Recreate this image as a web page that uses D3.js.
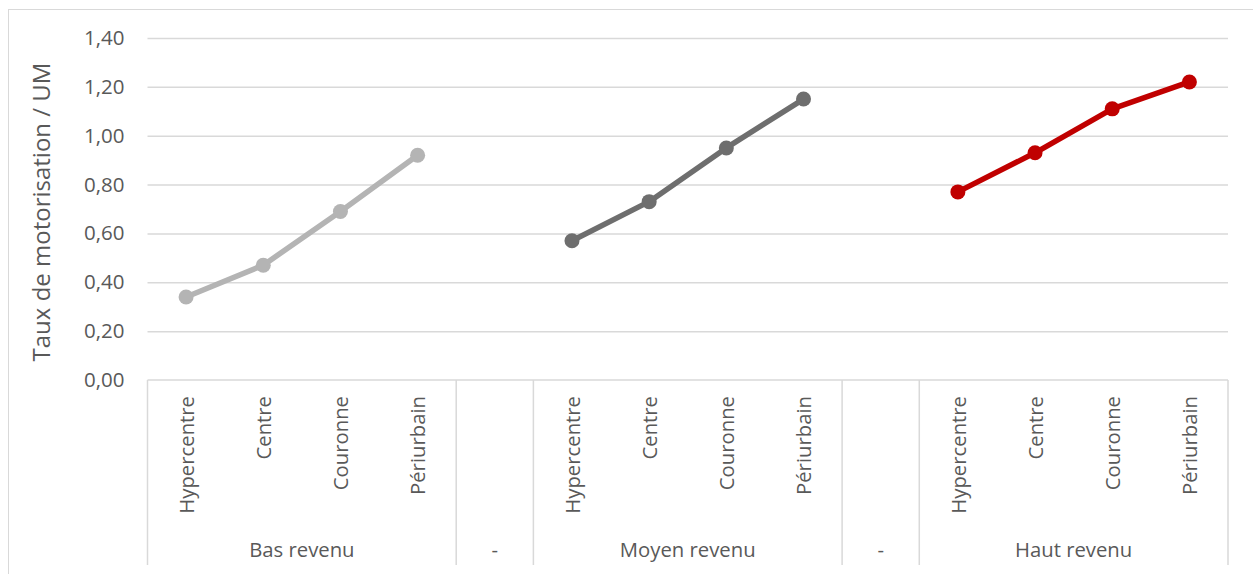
<!DOCTYPE html>
<html>
<head>
<meta charset="utf-8">
<script src="https://cdn.jsdelivr.net/npm/d3@7/dist/d3.min.js"></script>
<style>
  html, body { margin: 0; padding: 0; background: #fff; }
  svg { display: block; font-family: "Open Sans", sans-serif; }
</style>
</head>
<body>
<svg id="chart" width="1253" height="574"></svg>
<script>
// ---- data ----
const categories = ["Hypercentre", "Centre", "Couronne", "Périurbain"];
const groups = ["Bas revenu", "-", "Moyen revenu", "-", "Haut revenu"];
const basRevenu = [0.34, 0.47, 0.69, 0.92];
const moyenRevenu = [0.57, 0.73, 0.95, 1.15];
const hautRevenu = [0.77, 0.93, 1.11, 1.22];
const seriesColors = ["#b4b4b4", "#6e6e6e", "#c00000"];
const yTicks = [0, 0.2, 0.4, 0.6, 0.8, 1.0, 1.2, 1.4];
const yTitle = "Taux de motorisation / UM";

(function () {
// ---- slots (multi-level axis) ----
const slots = [];
groups.forEach((g, gi) => {
  if (g === "-") slots.push({ id: "s" + slots.length, group: gi, cat: "" });
  else categories.forEach(c => slots.push({ id: "s" + slots.length, group: gi, cat: c }));
});
const seriesList = [
  { group: 0, values: basRevenu, color: seriesColors[0] },
  { group: 2, values: moyenRevenu, color: seriesColors[1] },
  { group: 4, values: hautRevenu, color: seriesColors[2] }
];

const svg = d3.select("#chart");
const pLeft = 147.5, pRight = 1228, pTop = 38, pBottom = 380;
const textColor = "#595959", gridColor = "#d9d9d9";

// chart area border
svg.append("rect").attr("x", 8.5).attr("y", 9.5).attr("width", 1300).attr("height", 700)
  .attr("fill", "#fff").attr("stroke", gridColor).attr("stroke-width", 1);

const x = d3.scaleBand().domain(slots.map(s => s.id)).range([pLeft, pRight]).padding(0);
const y = d3.scaleLinear().domain([0, 1.4]).range([pBottom, pTop]);

const fr = d3.formatLocale({ decimal: ",", thousands: " ", grouping: [3], currency: ["", "€"] });
const fmt = fr.format(".2f");

// y axis with gridlines
const yAxis = svg.append("g").attr("transform", `translate(${pLeft},0)`)
  .call(d3.axisLeft(y).tickValues(yTicks).tickFormat(fmt).tickSize(-(pRight - pLeft)).tickPadding(23));
yAxis.select(".domain").remove();
yAxis.selectAll(".tick line").attr("stroke", gridColor).attr("stroke-width", 1.5);
yAxis.selectAll(".tick text").attr("fill", textColor).style("font-size", "20.5px")
  .style("font-family", "Open Sans");
yAxis.selectAll(".tick").filter(d => d === 0).select("line").remove();

// y title
svg.append("text")
  .attr("transform", `translate(50,${(pBottom + pTop) / 2 + 3}) rotate(-90)`)
  .attr("text-anchor", "middle")
  .attr("fill", textColor).style("font-size", "24px")
  .text(yTitle);

// category axis (first level)
const xAxis = svg.append("g").attr("transform", `translate(0,${pBottom})`)
  .call(d3.axisBottom(x).tickSize(0).tickFormat(id => slots.find(s => s.id === id).cat));
xAxis.select(".domain").remove();
xAxis.selectAll(".tick text")
  .attr("transform", "translate(0,16) rotate(-90)")
  .attr("text-anchor", "end")
  .attr("x", 0).attr("y", 0).attr("dy", "0.38em")
  .attr("fill", textColor).style("font-size", "20.3px")
  .style("font-family", "Open Sans");

// axis line
svg.append("line").attr("x1", pLeft).attr("x2", pRight).attr("y1", pBottom).attr("y2", pBottom)
  .attr("stroke", gridColor).attr("stroke-width", 1.5);

// group separators and group labels
const groupBounds = groups.map((g, gi) => {
  const s = slots.filter(d => d.group === gi);
  return { label: g, x0: x(s[0].id), x1: x(s[s.length - 1].id) + x.bandwidth() };
});
const sepX = [groupBounds[0].x0].concat(groupBounds.map(b => b.x1));
svg.append("g").selectAll("line").data(sepX).join("line")
  .attr("x1", d => d).attr("x2", d => d).attr("y1", pBottom).attr("y2", 565)
  .attr("stroke", gridColor).attr("stroke-width", 1.5);
svg.append("g").selectAll("text").data(groupBounds).join("text")
  .attr("x", d => (d.x0 + d.x1) / 2).attr("y", 557)
  .attr("text-anchor", "middle").attr("fill", textColor).style("font-size", "20.3px")
  .text(d => d.label);

// lines and markers
const line = d3.line().x(d => d.x).y(d => y(d.v));
seriesList.forEach(s => {
  const gSlots = slots.filter(d => d.group === s.group);
  const pts = s.values.map((v, i) => ({ x: x(gSlots[i].id) + x.bandwidth() / 2, v }));
  svg.append("path").datum(pts).attr("d", line).attr("fill", "none")
    .attr("stroke", s.color).attr("stroke-width", 5.5).attr("stroke-linejoin", "round");
  svg.append("g").selectAll("circle").data(pts).join("circle")
    .attr("cx", d => d.x).attr("cy", d => y(d.v)).attr("r", 7.5).attr("fill", s.color);
});
})();
</script>
</body>
</html>
